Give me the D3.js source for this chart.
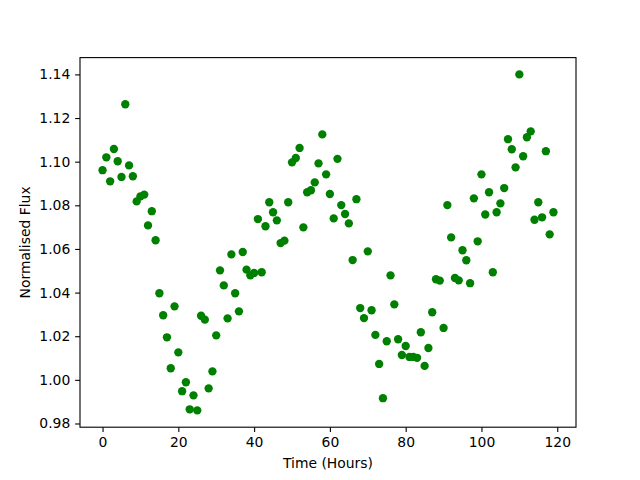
<!DOCTYPE html>
<html>
<head>
<meta charset="utf-8">
<script src="https://cdn.jsdelivr.net/npm/d3@7"></script>
<style>
    html, body { margin: 0; padding: 0; background: #fff; }
    svg { display: block; }
    text { font-family: "DejaVu Sans", sans-serif; }
</style>
</head>
<body>
<div id="chart"></div>
<script>
// Light curve: one reading per hour
const hours = d3.range(0, 120);
const flux = [
    1.0961, 1.1020, 1.0910, 1.1058, 1.1002, 1.0930, 1.1263, 1.0983, 1.0933, 1.0818,
    1.0841, 1.0849, 1.0708, 1.0773, 1.0640, 1.0397, 1.0296, 1.0195, 1.0053, 1.0337,
    1.0126, 0.9948, 0.9989, 0.9865, 0.9929, 0.9860, 1.0294, 1.0276, 0.9961, 1.0039,
    1.0204, 1.0502, 1.0433, 1.0282, 1.0575, 1.0397, 1.0314, 1.0586, 1.0505, 1.0479,
    1.0490, 1.0737, 1.0493, 1.0704, 1.0814, 1.0768, 1.0731, 1.0627, 1.0638, 1.0814,
    1.0997, 1.1017, 1.1063, 1.0699, 1.0860, 1.0869, 1.0905, 1.0992, 1.1125, 1.0942,
    1.0852, 1.0740, 1.1013, 1.0801, 1.0760, 1.0717, 1.0549, 1.0828, 1.0329, 1.0283,
    1.0589, 1.0319, 1.0206, 1.0073, 0.9916, 1.0177, 1.0479, 1.0346, 1.0186, 1.0114,
    1.0155, 1.0105, 1.0105, 1.0101, 1.0218, 1.0064, 1.0146, 1.0310, 1.0461, 1.0455,
    1.0238, 1.0801, 1.0653, 1.0467, 1.0456, 1.0594, 1.0548, 1.0443, 1.0832, 1.0635,
    1.0942, 1.0758, 1.0860, 1.0493, 1.0768, 1.0809, 1.0879, 1.1103, 1.1057, 1.0974,
    1.1400, 1.1025, 1.1112, 1.1139, 1.0734, 1.0814, 1.0745, 1.1048, 1.0667, 1.0768
];
const xTicks = [0, 20, 40, 60, 80, 100, 120];
const yTicks = [0.98, 1.00, 1.02, 1.04, 1.06, 1.08, 1.10, 1.12, 1.14];

const W = 640, H = 480;
const margin = { top: 57.6, right: 64, bottom: 52.8, left: 80 };
const width = W - margin.left - margin.right;
const height = H - margin.top - margin.bottom;

// matplotlib-style 5% data margins
function padded(extent) {
    const span = extent[1] - extent[0];
    return [extent[0] - span * 0.05, extent[1] + span * 0.05];
}

const svg = d3.select('#chart')
    .append('svg')
    .attr('width', W)
    .attr('height', H);

const g = svg.append('g')
    .attr('transform', `translate(${margin.left},${margin.top})`);

const x = d3.scaleLinear()
    .domain(padded(d3.extent(hours)))
    .range([0, width]);

const y = d3.scaleLinear()
    .domain(padded(d3.extent(flux)))
    .range([height, 0]);

const tickLen = 4.86;

// Axes
const xAxis = g.append('g')
    .attr('transform', `translate(0,${height})`)
    .call(d3.axisBottom(x).tickValues(xTicks).tickSize(tickLen).tickPadding(4.9).tickFormat(d3.format('d')));

const yAxis = g.append('g')
    .call(d3.axisLeft(y).tickValues(yTicks).tickSize(tickLen).tickPadding(4.9).tickFormat(d3.format('.2f')));

[xAxis, yAxis].forEach(ax => {
    ax.select('.domain').remove();
    ax.selectAll('.tick line').attr('stroke', '#000').attr('stroke-width', 1.1);
    ax.selectAll('.tick text')
        .attr('fill', '#000')
        .style('font-size', '13.9px')
        .style('font-family', '"DejaVu Sans", sans-serif');
});

// Points
g.selectAll('circle')
    .data(hours.map((h, i) => ({ h, v: flux[i] })))
    .enter()
    .append('circle')
    .attr('cx', d => x(d.h))
    .attr('cy', d => y(d.v))
    .attr('r', 4.17)
    .attr('fill', '#008000');

// Frame
g.append('rect')
    .attr('width', width)
    .attr('height', height)
    .attr('fill', 'none')
    .attr('stroke', '#000')
    .attr('stroke-width', 1.1);

// Axis labels
g.append('text')
    .attr('x', width / 2)
    .attr('y', height + 41)
    .attr('text-anchor', 'middle')
    .style('font-size', '13.9px')
    .text('Time (Hours)');

g.append('text')
    .attr('transform', `translate(${-50},${height / 2}) rotate(-90)`)
    .attr('text-anchor', 'middle')
    .style('font-size', '13.9px')
    .text('Normalised Flux');
</script>
</body>
</html>
